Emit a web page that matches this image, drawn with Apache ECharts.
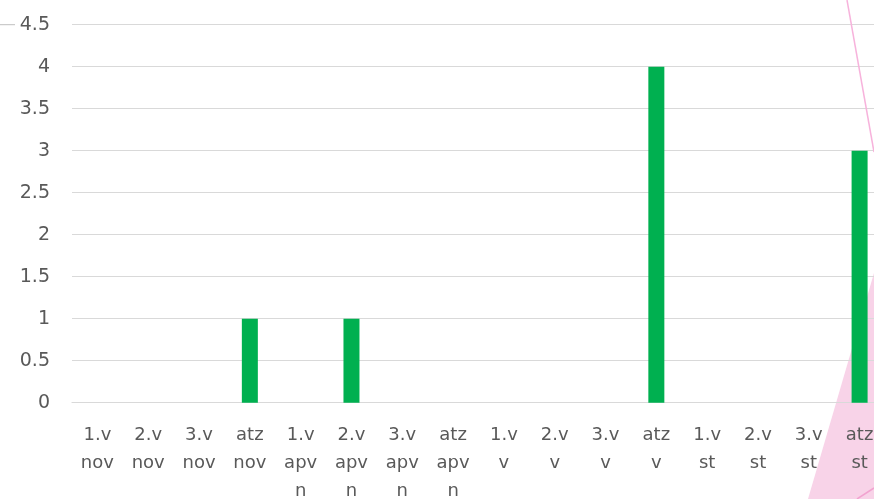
<!DOCTYPE html>
<html>
<head>
<meta charset="utf-8">
<script src="https://cdn.jsdelivr.net/npm/echarts@6/dist/echarts.min.js"></script>
<style>
html,body{margin:0;padding:0;background:#fff;overflow:hidden;width:874px;height:499px;}
#chart{width:885px;height:499px;}
</style>
</head>
<body>
<div id="chart"></div>
<script>
var categories = ["1.v nov","2.v nov","3.v nov","atz nov","1.v apvn","2.v apvn","3.v apvn","atz apvn","1.v v","2.v v","3.v v","atz v","1.v st","2.v st","3.v st","atz st"];
var values = [0,0,0,1,0,1,0,0,0,0,0,4,0,0,0,3];
var yMin = 0, yMax = 4.5, yStep = 0.5;

function wrapLabel(s){
  var out = [];
  s.split(' ').forEach(function(w){
    for (var i = 0; i < w.length; i += 3) out.push(w.slice(i, i + 3));
  });
  return out.join('\n');
}

var chart = echarts.init(document.getElementById('chart'), null, {renderer:'canvas'});
chart.setOption({
  animation:false,
  backgroundColor:'#ffffff',
  grid:{left:72, top:24.7, right:0, height:378, containLabel:false, outerBoundsMode:'none'},
  xAxis:{
    type:'category',
    data:categories,
    axisLine:{show:true, lineStyle:{color:'#D9D9D9', width:1.2}},
    axisTick:{show:false},
    axisLabel:{
      interval:0, color:'#595959', fontFamily:'DejaVu Sans', fontSize:18,
      lineHeight:28, margin:19,
      formatter:function(v){return wrapLabel(v);}
    }
  },
  yAxis:{
    type:'value', min:yMin, max:yMax, interval:yStep,
    axisLine:{show:false}, axisTick:{show:false},
    splitLine:{lineStyle:{color:'#D9D9D9', width:1.2}},
    axisLabel:{color:'#595959', fontFamily:'DejaVu Sans', fontSize:19, margin:22}
  },
  series:[{
    type:'bar', data:values, barWidth:16,
    itemStyle:{color:'#00B050'}
  }],
  graphic:[
    {type:'polygon', z:-1, shape:{points:[[874,273],[808,499],[874,499]]}, style:{fill:'#F8D3E8'}},
    {type:'line', z:-1, shape:{x1:857,y1:499,x2:874,y2:488}, style:{stroke:'#F2A3D0', lineWidth:1.5}},
    {type:'line', z:10, shape:{x1:847,y1:0,x2:874,y2:152}, style:{stroke:'#F7B3DC', lineWidth:1.5}},
    {type:'line', z:-1, shape:{x1:0,y1:24.7,x2:15,y2:24.7}, style:{stroke:'#BFBFBF', lineWidth:1}}
  ]
});
</script>
</body>
</html>
